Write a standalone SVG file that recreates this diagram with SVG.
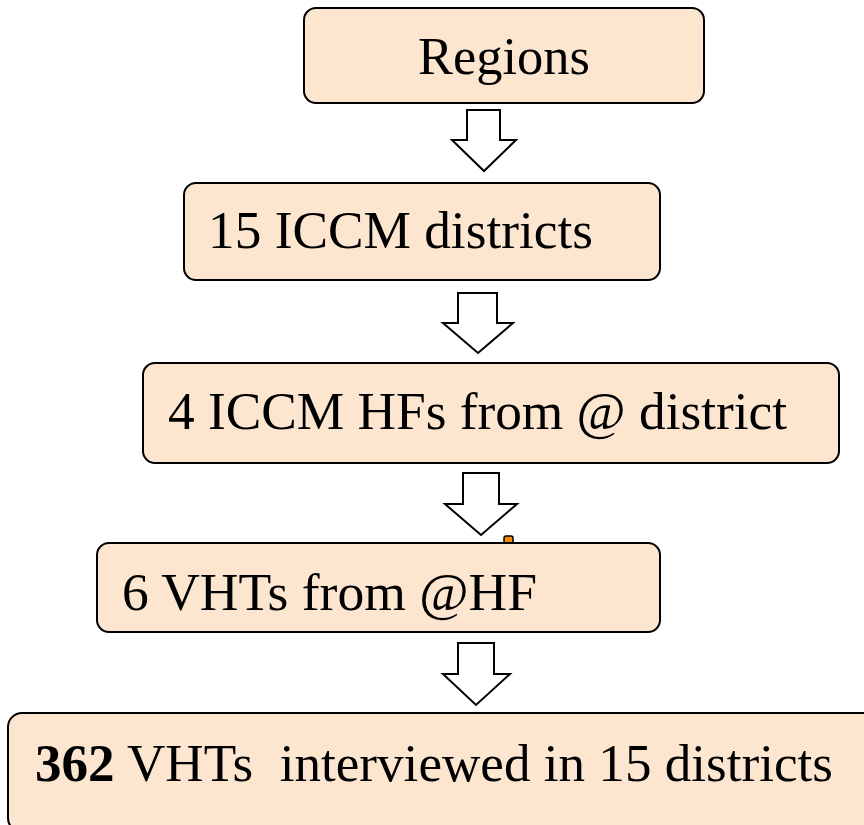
<svg xmlns="http://www.w3.org/2000/svg" width="864" height="825" viewBox="0 0 864 825">
<style>
.box{fill:#FCE6CF;stroke:#000;stroke-width:2}
.arr{fill:#fff;stroke:#000;stroke-width:2;stroke-linejoin:miter}
text{font-family:"Liberation Serif","Times New Roman",serif;font-size:53px;fill:#000;white-space:pre}
</style>
<rect width="864" height="825" fill="#fff"/>
<g id="connectors">
<path class="arr" d="M467,110 H500 V140 H516 L484,171 L452,140 H467 Z"/>
<path class="arr" d="M458,293 H497 V323 H513 L478,353 L443,323 H458 Z"/>
<path class="arr" d="M463,473 H499 V504 H517 L481,535 L445,504 H463 Z"/>
<path class="arr" d="M458,643 H494 V674 H510 L476,705 L443,674 H458 Z"/>
</g>
<g id="n1"><rect class="box" x="304" y="8" width="400" height="95" rx="12"/><text x="418" y="74" textLength="172" lengthAdjust="spacingAndGlyphs">Regions</text></g>
<g id="n2"><rect class="box" x="184" y="183" width="476" height="97" rx="12"/><text x="208" y="248" textLength="385" lengthAdjust="spacingAndGlyphs">15 ICCM districts</text></g>
<g id="n3"><rect class="box" x="143" y="363" width="696" height="100" rx="12"/><text x="168" y="429" font-size="54" textLength="619" lengthAdjust="spacingAndGlyphs">4 ICCM HFs from @ district</text></g>
<rect x="504" y="536" width="9" height="8" rx="2" fill="#F08A00" stroke="#000" stroke-width="1.5"/>
<g id="n4"><rect class="box" x="97" y="543" width="563" height="89" rx="12"/><text x="122" y="610" font-size="55" textLength="415" lengthAdjust="spacingAndGlyphs">6 VHTs from @HF</text></g>
<g id="n5"><rect class="box" x="8" y="713" width="872" height="119" rx="14"/><text x="35" y="781" font-size="57" textLength="798" lengthAdjust="spacingAndGlyphs"><tspan font-weight="bold">362</tspan> VHTs  interviewed in 15 districts</text></g>
</svg>
